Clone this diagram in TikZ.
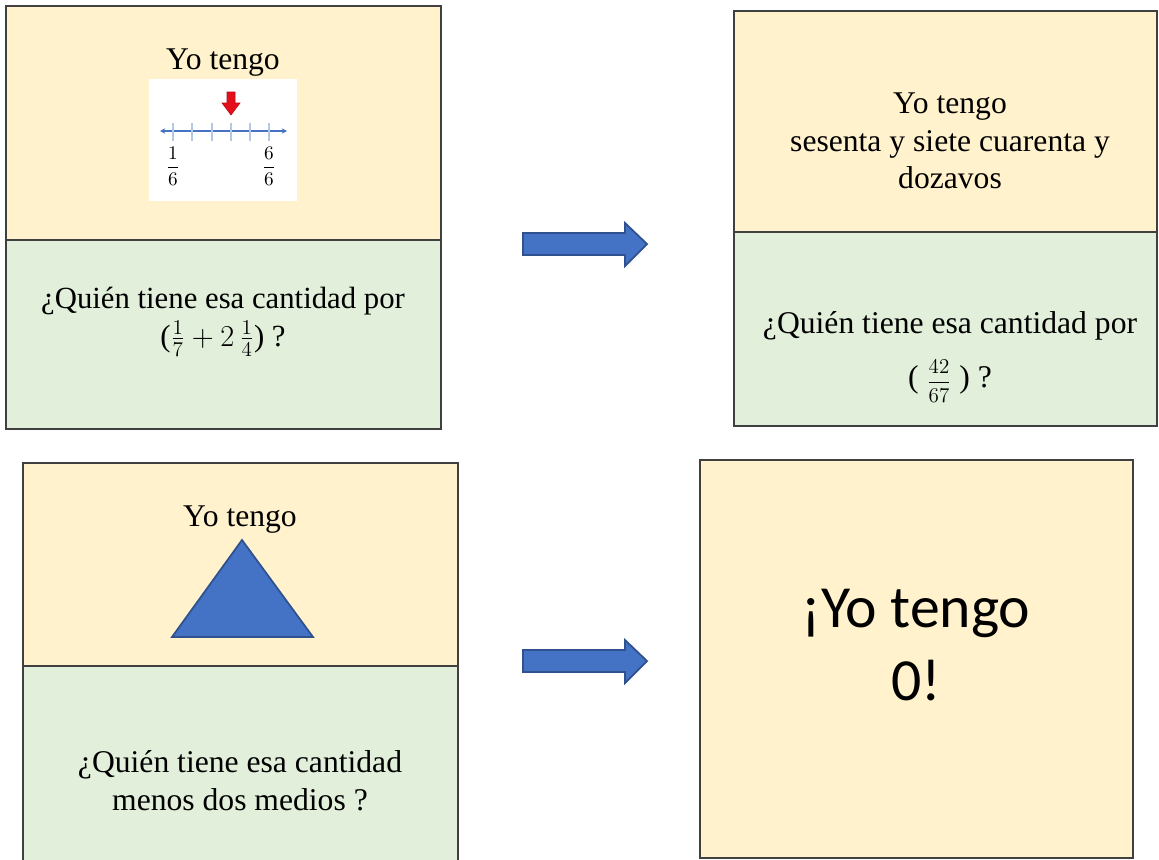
\documentclass[tikz,border=0pt]{standalone}
\usepackage{fontspec}
\usepackage{amsmath}
\setmainfont{Liberation Serif}
\newfontfamily\calibri{Carlito}
\usetikzlibrary{arrows.meta}

\definecolor{cardyellow}{HTML}{FFF2CC}
\definecolor{cardgreen}{HTML}{E2EFDA}
\definecolor{arrowblue}{HTML}{4472C4}
\definecolor{arrowedge}{HTML}{2F528F}
\definecolor{tickblue}{HTML}{B4C7E7}
\definecolor{pointred}{HTML}{E3101C}

\tikzset{
	half/.style = {draw=black!75, line width=1pt, anchor=north west, inner sep=0pt},
	tophalf/.style = {half, fill=cardyellow},
	bothalf/.style = {half, fill=cardgreen},
	txt/.style = {font=\fontsize{18}{21.5}\selectfont, align=center, inner sep=0pt},
	blockarrow/.style = {fill=arrowblue, draw=arrowedge, line width=1pt, line join=miter}
}

\begin{document}
\begin{tikzpicture}[x=0.02cm, y=-0.02cm]
	\useasboundingbox (0,0) rectangle (1159,859);
	% cards
	\node[tophalf, minimum width=8.7cm, minimum height=4.68cm] (c1top) at (5,5) {};
	\node[bothalf, minimum width=8.7cm, minimum height=3.78cm] (c1bot) at (5,239) {};
	\node[tophalf, minimum width=8.46cm, minimum height=4.42cm] (c2top) at (733,10) {};
	\node[bothalf, minimum width=8.46cm, minimum height=3.88cm] (c2bot) at (733,231) {};
	\node[tophalf, minimum width=8.7cm, minimum height=4.06cm] (c3top) at (22,462) {};
	\node[bothalf, minimum width=8.7cm, minimum height=4.1cm] (c3bot) at (22,665) {};
	\node[tophalf, minimum width=8.66cm, minimum height=7.96cm] (c4) at (699,459) {};

	% card 1
	\node[txt] (c1have) at (223,63) {Yo tengo};
	\node[fill=white, anchor=north west, minimum width=2.96cm, minimum height=2.44cm] (nlimg) at (149,79) {};
	\draw[arrowblue, line width=0.6pt, {Stealth[length=3pt,width=3pt]}-{Stealth[length=3pt,width=3pt]}] (160,131) -- (287,131);
	\foreach \t in {173,192,212,231,250,269}
		\draw[tickblue, line width=0.6pt] (\t,123) -- (\t,141);
	\draw[fill=pointred, draw=pointred!80!black, line width=0.3pt] (227,92) -- (235,92) -- (235,103) -- (240,103) -- (231,115) -- (222,103) -- (227,103) -- cycle;
	\node[inner sep=0pt, font=\fontsize{11}{13}\selectfont] (nl1) at (173,166) {$\dfrac{1}{6}$};
	\node[inner sep=0pt, font=\fontsize{11}{13}\selectfont] (nl6) at (269,166) {$\dfrac{6}{6}$};
	\node[txt, font=\fontsize{17.5}{21.5}\selectfont] (c1ask) at (223,322) {¿Quién tiene esa cantidad por\\($\frac{1}{7}+2\,\frac{1}{4}$) ?};

	% card 2
	\node[txt] (c2have) at (950,141) {Yo tengo\\sesenta y siete cuarenta y\\dozavos};
	\node[txt] (c2ask) at (950,357) {¿Quién tiene esa cantidad por\\[9pt]( {\fontsize{13}{15}\selectfont$\dfrac{42}{67}$} ) ?};

	% card 3
	\node[txt] (c3have) at (240,520) {Yo tengo};
	\draw[blockarrow] (242,540) -- (313,637) -- (172,637) -- cycle;
	\node[txt] (c3ask) at (240,781) {¿Quién tiene esa cantidad\\menos dos medios ?};

	% card 4
	\node[txt, font=\calibri\fontsize{34}{42}\selectfont] (c4have) at (916,645) {¡Yo tengo\\0!};

	% arrows
	\foreach \y in {244,661}
		\draw[blockarrow] (523,\y-11) -- (625,\y-11) -- (625,\y-21) -- (647,\y) -- (625,\y+22) -- (625,\y+11) -- (523,\y+11) -- cycle;
\end{tikzpicture}
\end{document}
